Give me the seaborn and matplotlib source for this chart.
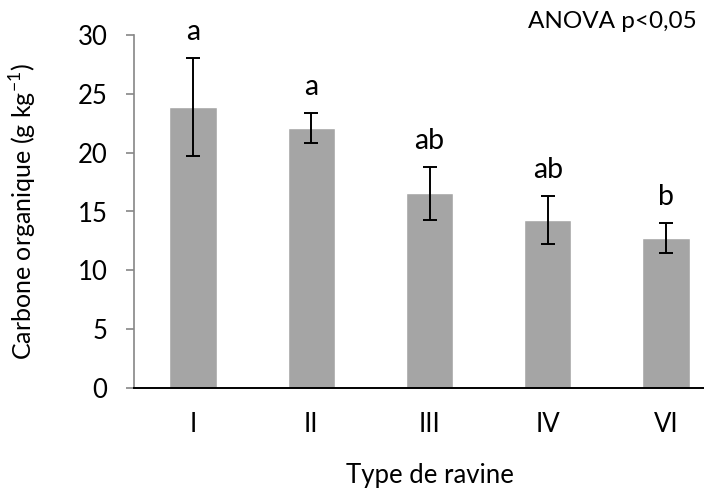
import matplotlib
matplotlib.use("Agg")
import matplotlib.pyplot as plt
import seaborn as sns
import pandas as pd

# Organic carbon by gully type
types = ["I", "II", "III", "IV", "VI"]
carbon_mean = [23.9, 22.1, 16.55, 14.3, 12.75]
carbon_sd = [4.15, 1.28, 2.25, 2.05, 1.28]
letters = ["a", "a", "ab", "ab", "b"]

sns.set_theme(style="white")
plt.rcParams["font.family"] = ["Lato", "DejaVu Sans"]
plt.rcParams["mathtext.fontset"] = "custom"
plt.rcParams["mathtext.rm"] = "Lato"

df = pd.DataFrame({"type": types, "carbon": carbon_mean})

fig = plt.figure(figsize=(7.04, 4.90), dpi=100)
ax = fig.add_axes([134 / 704, 102 / 490, 591 / 704, 353 / 490])

sns.barplot(data=df, x="type", y="carbon", color="#A5A5A5", saturation=1,
            width=0.4, errorbar=None, ax=ax)
ax.errorbar(range(len(types)), carbon_mean, yerr=carbon_sd, fmt="none",
            ecolor="black", elinewidth=1.4, capsize=5, capthick=1.4)

# significance letters just above each whisker
for i, (m, s, lab) in enumerate(zip(carbon_mean, carbon_sd, letters)):
    ax.text(i, m + s + 1.5, lab, ha="center", va="baseline", fontsize=20.5,
            color="black", clip_on=False)

ax.set_xlim(-0.5, 4.5)
ax.set_ylim(0, 30)
ax.set_yticks(range(0, 31, 5))

for side in ["top", "right"]:
    ax.spines[side].set_visible(False)
ax.spines["left"].set_color("#868686")
ax.spines["left"].set_linewidth(1.2)
ax.spines["bottom"].set_color("black")
ax.spines["bottom"].set_linewidth(1.4)

ax.tick_params(axis="y", which="both", left=True, length=6, width=1.2,
               color="#868686", labelsize=18.5, pad=13, labelcolor="black")
ax.tick_params(axis="x", bottom=False, labelsize=18.5, pad=11, labelcolor="black")

ax.set_xlabel("Type de ravine", fontsize=18.5, labelpad=19, color="black")
ax.set_ylabel(r"Carbone organique (g kg$^{\mathregular{-1}}$)", fontsize=18,
              labelpad=28, color="black")

fig.text(697 / 704, 1 - 22 / 490, "ANOVA p<0,05", ha="right", va="center",
         fontsize=17.5, color="black")

fig.savefig("out.png", dpi=100)
